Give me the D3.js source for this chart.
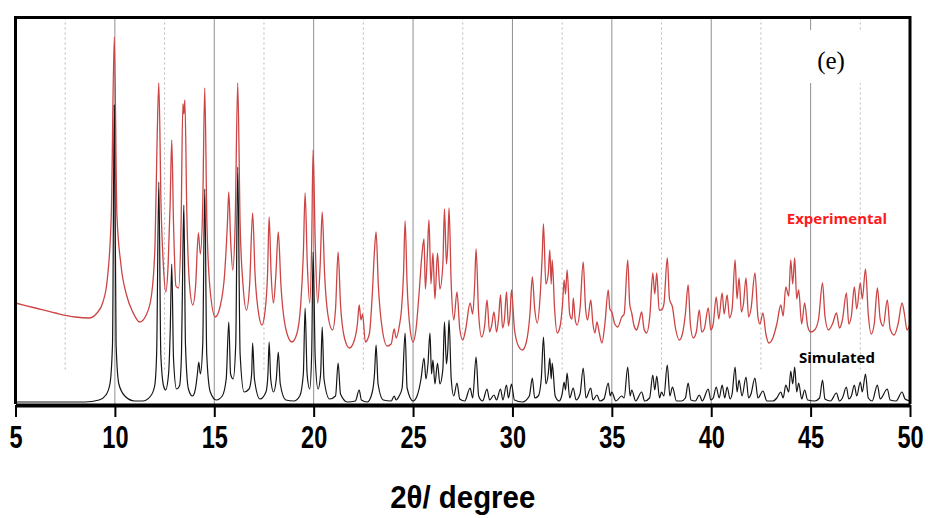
<!DOCTYPE html>
<html>
<head>
<meta charset="utf-8">
<script src="https://cdn.jsdelivr.net/npm/d3@7"></script>
<style>
    html, body { margin: 0; padding: 0; background: #fff; }
    svg { display: block; }
    .axis-label { font-family: 'Liberation Sans Narrow', 'Arial Narrow', 'Liberation Sans', sans-serif; font-weight: bold; }
</style>
</head>
<body>
<svg id="viz"></svg>
<script>
// tick values on the 2theta axis
const majorTicks = [5, 10, 15, 20, 25, 30, 35, 40, 45, 50];
const minorTicks = [7.5, 12.5, 17.5, 22.5, 27.5, 32.5, 37.5, 42.5, 47.5];

// experimental pattern, [2theta, intensity a.u.] (tops and valleys)
const expData = [[5.0,101],[6.0,96],[7.0,91],[8.0,87],[8.7,86],[9.1,91],[9.4,102],[9.62,125],[9.82,190],[9.97,367],[10.1,190],[10.3,140],[10.6,108],[10.9,92],[11.25,82],[11.6,90],[11.85,110],[12.02,160],[12.13,270],[12.21,321],[12.32,200],[12.45,135],[12.56,112],[12.68,140],[12.78,200],[12.86,264],[12.95,180],[13.07,118],[13.2,116],[13.33,180],[13.42,300],[13.47,290],[13.52,304],[13.62,190],[13.76,118],[13.92,99],[14.06,118],[14.2,171],[14.3,150],[14.42,200],[14.52,316],[14.63,180],[14.8,112],[15.05,87],[15.3,98],[15.52,130],[15.66,180],[15.73,212],[15.82,165],[15.93,134],[16.05,180],[16.18,321],[16.3,180],[16.45,118],[16.62,94],[16.78,120],[16.93,191],[17.05,130],[17.25,88],[17.4,79],[17.55,92],[17.68,130],[17.76,187],[17.86,130],[17.98,101],[18.1,130],[18.22,172],[18.35,120],[18.6,75],[18.9,62],[19.15,70],[19.35,100],[19.48,150],[19.57,211],[19.68,140],[19.8,101],[19.9,160],[19.97,254],[20.08,160],[20.2,101],[20.33,140],[20.43,192],[20.55,130],[20.75,85],[20.95,74],[21.1,95],[21.23,152],[21.35,100],[21.55,66],[21.8,56],[22.05,64],[22.2,80],[22.29,99],[22.38,84],[22.46,90],[22.6,62],[22.8,70],[22.95,110],[23.05,150],[23.14,172],[23.25,120],[23.45,75],[23.7,58],[23.9,60],[24.05,75],[24.15,66],[24.3,77],[24.42,95],[24.52,130],[24.6,183],[24.7,120],[24.85,75],[25.0,62],[25.15,75],[25.3,110],[25.45,150],[25.55,165],[25.62,115],[25.72,150],[25.8,184],[25.9,120],[26.0,151],[26.1,105],[26.23,151],[26.35,115],[26.5,140],[26.58,195],[26.68,140],[26.75,160],[26.81,196],[26.92,120],[27.05,84],[27.21,112],[27.35,75],[27.5,64],[27.65,75],[27.87,101],[28.0,90],[28.1,120],[28.17,155],[28.3,90],[28.45,67],[28.6,78],[28.72,104],[28.85,72],[28.95,78],[29.07,92],[29.2,72],[29.3,85],[29.4,109],[29.5,76],[29.6,85],[29.7,112],[29.8,78],[29.88,90],[29.95,114],[30.1,75],[30.3,58],[30.5,54],[30.7,62],[30.88,90],[31.0,127],[31.12,95],[31.25,81],[31.4,110],[31.5,150],[31.56,180],[31.68,120],[31.8,130],[31.88,154],[31.95,120],[32.0,144],[32.12,95],[32.25,71],[32.4,78],[32.52,100],[32.6,124],[32.67,110],[32.75,134],[32.88,90],[33.0,85],[33.06,106],[33.16,84],[33.25,79],[33.4,95],[33.56,142],[33.68,95],[33.78,84],[33.94,104],[34.05,80],[34.15,71],[34.25,82],[34.38,70],[34.5,61],[34.65,80],[34.82,114],[34.9,95],[35.0,92],[35.15,80],[35.3,77],[35.5,87],[35.62,90],[35.8,144],[35.9,100],[36.0,91],[36.12,78],[36.25,74],[36.35,80],[36.5,92],[36.62,75],[36.75,71],[36.92,90],[37.06,131],[37.16,110],[37.26,131],[37.38,94],[37.5,94],[37.62,100],[37.79,146],[37.9,105],[38.05,97],[38.2,76],[38.4,64],[38.55,70],[38.7,90],[38.84,119],[38.95,80],[39.1,66],[39.25,72],[39.4,94],[39.52,72],[39.65,75],[39.85,96],[39.98,74],[40.1,80],[40.25,107],[40.38,85],[40.55,111],[40.65,90],[40.8,109],[40.92,86],[41.05,95],[41.2,144],[41.3,105],[41.4,126],[41.52,92],[41.62,100],[41.75,126],[41.88,87],[42.0,95],[42.2,131],[42.35,87],[42.45,80],[42.6,91],[42.75,70],[42.9,61],[43.1,66],[43.3,80],[43.5,99],[43.62,88],[43.75,117],[43.9,108],[44.0,144],[44.1,120],[44.2,146],[44.3,105],[44.4,114],[44.55,80],[44.7,101],[44.85,78],[45.0,72],[45.2,74],[45.4,85],[45.6,121],[45.72,88],[45.9,74],[46.1,80],[46.3,91],[46.45,76],[46.6,84],[46.8,111],[46.92,80],[47.05,88],[47.2,117],[47.32,95],[47.5,121],[47.6,105],[47.76,135],[47.9,90],[48.05,70],[48.2,80],[48.36,116],[48.5,85],[48.65,78],[48.86,104],[49.0,75],[49.2,69],[49.4,80],[49.6,101],[49.72,90],[49.85,74],[50.0,80]];

// simulated pattern, same units
const simData = [[5.0,2],[8.5,2],[9.2,4],[9.55,9],[9.75,20],[9.88,60],[9.97,299],[10.06,60],[10.2,20],[10.5,8],[11.0,3],[11.4,3],[11.8,8],[12.0,18],[12.1,50],[12.21,222],[12.31,50],[12.45,18],[12.55,14],[12.7,30],[12.78,70],[12.86,140],[12.95,45],[13.1,15],[13.25,18],[13.35,50],[13.42,150],[13.47,199],[13.55,60],[13.7,15],[13.9,8],[14.05,15],[14.15,30],[14.22,42],[14.3,30],[14.42,60],[14.52,215],[14.62,50],[14.8,12],[15.1,4],[15.4,8],[15.6,25],[15.73,82],[15.82,30],[15.95,25],[16.08,60],[16.18,237],[16.3,50],[16.5,12],[16.75,15],[16.88,30],[16.93,61],[17.02,25],[17.3,5],[17.6,12],[17.7,30],[17.76,62],[17.84,25],[17.98,12],[18.12,25],[18.22,52],[18.32,20],[18.6,4],[19.0,3],[19.3,8],[19.48,30],[19.57,96],[19.67,30],[19.8,15],[19.9,50],[19.97,152],[20.08,45],[20.22,15],[20.35,30],[20.43,77],[20.52,25],[20.8,5],[21.1,8],[21.23,41],[21.35,10],[21.7,2],[22.1,3],[22.29,14],[22.4,4],[22.7,2],[22.95,12],[23.06,30],[23.14,59],[23.24,20],[23.5,4],[23.9,3],[24.05,8],[24.15,4],[24.3,8],[24.45,16],[24.6,71],[24.7,16],[25.0,3],[25.2,8],[25.4,25],[25.55,46],[25.65,25],[25.75,40],[25.85,71],[25.93,30],[26.0,44],[26.1,20],[26.23,41],[26.35,20],[26.5,35],[26.58,82],[26.68,40],[26.75,55],[26.81,84],[26.92,25],[27.05,8],[27.21,21],[27.35,5],[27.6,3],[27.87,16],[28.0,6],[28.17,47],[28.3,8],[28.5,3],[28.72,15],[28.85,4],[29.07,9],[29.2,4],[29.4,15],[29.52,4],[29.7,19],[29.8,6],[29.95,20],[30.1,4],[30.5,2],[30.85,8],[31.0,26],[31.12,6],[31.3,8],[31.45,25],[31.56,67],[31.68,20],[31.8,30],[31.88,46],[31.95,25],[32.0,41],[32.15,8],[32.35,3],[32.5,10],[32.6,22],[32.67,14],[32.75,31],[32.88,6],[33.06,16],[33.2,4],[33.4,10],[33.56,36],[33.7,6],[33.94,16],[34.05,4],[34.25,9],[34.4,3],[34.6,5],[34.82,21],[34.92,8],[35.0,12],[35.2,3],[35.5,8],[35.62,6],[35.8,37],[35.92,8],[36.0,14],[36.2,3],[36.5,12],[36.65,3],[36.9,6],[37.06,29],[37.16,14],[37.26,28],[37.4,6],[37.5,12],[37.62,8],[37.79,39],[37.92,8],[38.05,17],[38.25,3],[38.5,3],[38.7,6],[38.84,21],[38.98,4],[39.2,3],[39.4,9],[39.55,3],[39.85,15],[39.98,4],[40.1,6],[40.25,17],[40.4,6],[40.55,19],[40.68,6],[40.8,17],[40.95,5],[41.05,10],[41.2,37],[41.3,12],[41.4,24],[41.55,8],[41.75,27],[41.88,6],[42.0,10],[42.2,26],[42.35,6],[42.6,13],[42.8,3],[43.1,3],[43.3,6],[43.5,12],[43.62,6],[43.75,19],[43.9,12],[44.0,33],[44.1,20],[44.2,37],[44.3,12],[44.4,21],[44.55,5],[44.7,14],[44.85,4],[45.2,3],[45.45,6],[45.6,24],[45.72,5],[46.0,3],[46.3,11],[46.45,3],[46.6,6],[46.8,17],[46.92,5],[47.05,8],[47.2,19],[47.32,8],[47.5,22],[47.6,12],[47.76,30],[47.9,6],[48.1,3],[48.36,19],[48.5,5],[48.86,15],[49.0,4],[49.3,3],[49.6,12],[49.75,5],[50.0,3]];

const seriesNames = ['Experimental', 'Simulated'];
const panelLabel = '(e)';
const xTitle = '2\u03b8/ degree';

(function () {
    let config = {
        width: 928,
        height: 518,
        plot: { left: 15.5, right: 910, top: 17.5, bottom: 404 },
        xDomain: [5, 50],
        yDomain: [0, 386.5]
    }

    function drawChart() {
        let p = config.plot
        let svg = d3.select('#viz')
            .attr('width', config.width)
            .attr('height', config.height)

        svg.append('rect')
            .attr('width', config.width)
            .attr('height', config.height)
            .attr('fill', '#fff')

        let xScale = d3.scaleLinear().domain(config.xDomain).range([p.left, p.right])
        let yScale = d3.scaleLinear().domain(config.yDomain).range([p.bottom, p.top])

        // dotted half-step grid
        svg.append('g').selectAll('line')
            .data(minorTicks)
            .join('line')
            .attr('x1', d => xScale(d)).attr('x2', d => xScale(d))
            .attr('y1', p.top).attr('y2', 372)
            .attr('stroke', '#b8b8b8')
            .attr('stroke-width', 1)
            .attr('stroke-dasharray', '2,3')

        // solid grid at the major ticks
        svg.append('g').selectAll('line')
            .data(majorTicks.slice(1, -1))
            .join('line')
            .attr('x1', d => xScale(d)).attr('x2', d => xScale(d))
            .attr('y1', p.top).attr('y2', p.bottom)
            .attr('stroke', '#8f8f8f')
            .attr('stroke-width', 1)

        let line = d3.line()
            .x(d => xScale(d[0]))
            .y(d => yScale(d[1]))
            .curve(d3.curveMonotoneX)

        svg.append('path')
            .datum(expData)
            .attr('d', line)
            .attr('fill', 'none')
            .attr('stroke', '#cd4444')
            .attr('stroke-width', 1.3)

        svg.append('path')
            .datum(simData)
            .attr('d', line)
            .attr('fill', 'none')
            .attr('stroke', '#151515')
            .attr('stroke-width', 1.2)

        // frame: top, left, right
        svg.append('path')
            .attr('d', `M${p.left},${p.bottom}V${p.top}H${p.right}V${p.bottom}`)
            .attr('fill', 'none')
            .attr('stroke', '#000')
            .attr('stroke-width', 3)

        // x axis
        let gAxis = svg.append('g').attr('transform', `translate(0,${p.bottom + 1})`)
        gAxis.call(d3.axisBottom(xScale).tickValues(minorTicks).tickSize(9).tickSizeOuter(0).tickFormat(''))
        gAxis.call(d3.axisBottom(xScale).tickValues(majorTicks).tickSize(12).tickSizeOuter(0).tickPadding(9))
        gAxis.selectAll('.domain').attr('stroke-width', 4).attr('stroke', '#000')
        gAxis.selectAll('.tick line').attr('stroke-width', 2).attr('stroke', '#000')
        gAxis.selectAll('.tick text')
            .classed('axis-label', true)
            .attr('font-size', 31)
            .attr('fill', '#000')
            .attr('transform', 'scale(0.76,1)')

        svg.append('text')
            .classed('axis-label', true)
            .attr('x', (p.left + p.right) / 2)
            .attr('y', 508)
            .attr('text-anchor', 'middle')
            .attr('font-size', 32)
            .attr('transform', `translate(${(p.left + p.right) / 2 * 0.08},0) scale(0.92,1)`)
            .text(xTitle)

        // panel label on a white patch
        svg.append('rect')
            .attr('x', 805).attr('y', 30)
            .attr('width', 62).attr('height', 53)
            .attr('fill', '#fff')
        svg.append('text')
            .attr('x', 831)
            .attr('y', 69)
            .attr('text-anchor', 'middle')
            .attr('font-family', "'Liberation Serif', 'Times New Roman', serif")
            .attr('font-size', 25)
            .text(panelLabel)

        let seriesLabelStyle = [
            { x: 837, y: 224, fill: '#ff1a1a' },
            { x: 837, y: 363, fill: '#000' }
        ]
        seriesNames.forEach((name, i) => {
            svg.append('text')
                .attr('x', seriesLabelStyle[i].x)
                .attr('y', seriesLabelStyle[i].y)
                .attr('text-anchor', 'middle')
                .attr('font-family', "'Open Sans', 'Noto Sans', sans-serif")
                .attr('font-weight', 'bold')
                .attr('font-size', 15)
                .attr('fill', seriesLabelStyle[i].fill)
                .text(name)
        })
    }

    drawChart()
})()
</script>
</body>
</html>
